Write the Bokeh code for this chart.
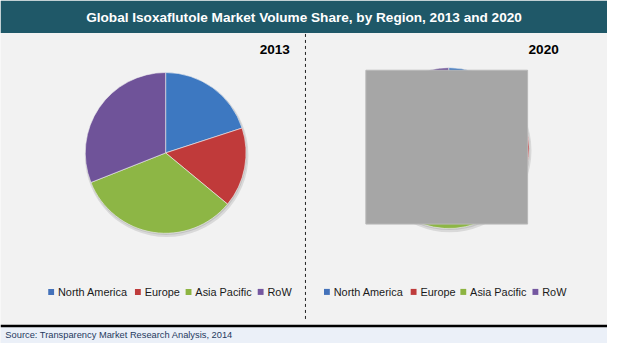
from math import pi
from bokeh.plotting import figure
from bokeh.models import Range1d, ColumnDataSource
from bokeh.core.properties import value
from bokeh.embed import file_html
from bokeh.resources import INLINE

# ---- data ----
regions = ["North America", "Europe", "Asia Pacific", "RoW"]
share_2013 = [20, 16, 33, 31]
share_2020 = [21, 15, 34, 30]
years = ["2013", "2020"]
title = "Global Isoxaflutole Market Volume Share, by Region, 2013 and 2020"
source_note = "Source: Transparency Market Research Analysis, 2014"
colors = ["#3D78C1", "#C03A3A", "#8DB645", "#6F5399"]
legend_colors = ["#4472BA", "#BF3C3C", "#8DB441", "#7457A0"]

# ---- layout (reference pixel space, y measured from top) ----
W, H = 623, 359
FS = 0.97
FONT = value("Liberation Sans")


def Y(v):
    return H - v


p = figure(width=607, height=343, x_range=Range1d(0, W), y_range=Range1d(0, H),
           output_backend="svg", toolbar_location=None, min_border=0)
p.axis.visible = False
p.grid.visible = False
p.outline_line_color = None
p.background_fill_color = "#F2F2F2"
p.border_fill_color = "#F2F2F2"

# title bar
p.quad(left=[0], right=[W], top=[Y(0)], bottom=[Y(34)], fill_color="#1F5868", line_color=None)
p.text(x=[311.5], y=[Y(18)], text=[title], text_align="center", text_baseline="middle",
       text_font=FONT, text_font_style="bold", text_font_size=f"{14*FS:.1f}px", text_color="white")

# bottom band
p.quad(left=[0], right=[W], top=[Y(342)], bottom=[0], fill_color="#EBF0F8", line_color=None)
p.quad(left=[0], right=[W], top=[Y(339.5)], bottom=[Y(342)], fill_color="black", line_color=None)
p.text(x=[5], y=[Y(350)], text=[source_note], text_align="left", text_baseline="middle",
       text_font=FONT, text_font_size=f"{9.6*FS:.1f}px", text_color="#1F3A60")

# divider
p.segment(x0=[313], y0=[Y(35)], x1=[313], y1=[Y(336)], line_color="#222222", line_width=1,
          line_dash="3 3")

# pies
centers = [(169.5, 159.5), (460, 154.5)]
radius = 82.5
year_label_x = [297, 573]
legend_sq_x = [[49, 138, 190, 264], [332, 421, 472, 546]]

for (cx, cy), vals, yr, lx, sqx in zip(centers, [share_2013, share_2020], years,
                                       year_label_x, legend_sq_x):
    total = float(sum(vals))
    cum = 0.0
    starts, ends = [], []
    for v in vals:
        a0 = pi / 2 - 2 * pi * cum / total
        cum += v
        a1 = pi / 2 - 2 * pi * cum / total
        starts.append(a1)
        ends.append(a0)
    # soft shadow
    p.circle(x=[cx + 1], y=[Y(cy) - 2.5], radius=radius + 1.5, fill_color="#000000",
             fill_alpha=0.10, line_color=None)
    p.circle(x=[cx + 0.5], y=[Y(cy) - 1.2], radius=radius + 0.5, fill_color="#000000",
             fill_alpha=0.10, line_color=None)
    src = ColumnDataSource(dict(start=starts, end=ends, color=colors))
    p.wedge(x=cx, y=Y(cy), radius=radius, start_angle="start", end_angle="end",
            fill_color="color", line_color="#F2F2F2", line_width=0.6, source=src)
    # year label
    p.text(x=[lx], y=[Y(51)], text=[yr], text_align="right", text_baseline="middle",
           text_font=FONT, text_font_style="bold", text_font_size=f"{14*FS:.1f}px",
           text_color="black")
    # legend
    p.rect(x=[s + 3 for s in sqx], y=[Y(305)] * 4, width=6, height=6.3,
           fill_color=legend_colors, line_color=None)
    p.text(x=[s + 10 for s in sqx], y=[Y(305)] * 4, text=regions, text_align="left",
           text_baseline="middle", text_font=FONT, text_font_size=f"{11.2*FS:.1f}px",
           text_color="#1A1A1A")

# grey cover box over the 2020 pie
p.quad(left=[375], right=[541], top=[Y(73)], bottom=[Y(234)], fill_color="#A6A6A6",
       line_color="#B8B8B8", line_width=1)

open("out.html", "w").write(file_html(p, INLINE))
